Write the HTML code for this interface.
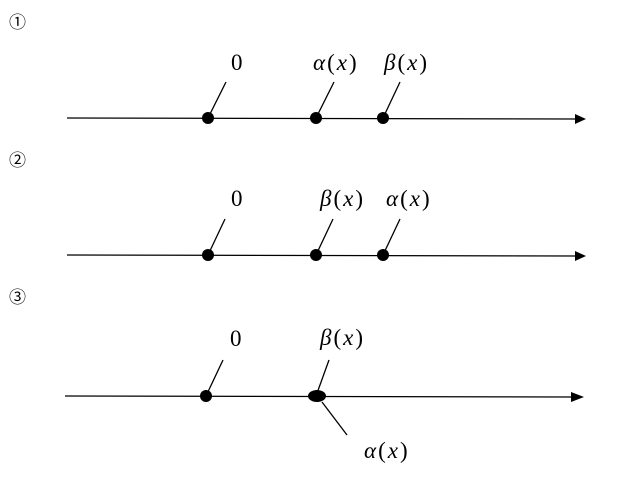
<!DOCTYPE html>
<html><head><style>body{margin:0;background:#fff}
svg text{font-family:"Liberation Serif","Times New Roman",serif;font-size:23px;letter-spacing:2px}
svg text.c{font-family:"Noto Sans CJK SC","WenQuanYi Zen Hei",sans-serif;font-size:17px;letter-spacing:0}
</style></head><body>
<svg width="633" height="479" xmlns="http://www.w3.org/2000/svg">
<text class="c" x="9" y="28">①</text><text class="c" x="9" y="166">②</text><text class="c" x="9" y="303">③</text>
<g stroke="#000" stroke-width="1.3">
<line x1="67" y1="118" x2="578" y2="119"/>
<line x1="67" y1="255" x2="578" y2="256"/>
<line x1="65" y1="396" x2="572" y2="397"/>
<line x1="208" y1="118" x2="226" y2="82"/>
<line x1="316" y1="118" x2="334" y2="82"/>
<line x1="383" y1="118" x2="400" y2="82"/>
<line x1="208" y1="255" x2="225" y2="219"/>
<line x1="316" y1="255" x2="333" y2="219"/>
<line x1="383" y1="255" x2="400" y2="219"/>
<line x1="206" y1="396" x2="223" y2="360"/>
<line x1="316" y1="396" x2="329" y2="360"/>
<line x1="322" y1="402" x2="347" y2="435"/>
</g>
<g fill="#000">
<polygon points="586,119 575,114 575,124"/>
<polygon points="586,256 575,251 575,261"/>
<polygon points="584,397 571,392 571,402"/>
<circle cx="208" cy="118" r="6"/><circle cx="316" cy="118" r="6"/><circle cx="383" cy="118" r="6"/>
<circle cx="208" cy="255" r="6"/><circle cx="316" cy="255" r="6"/><circle cx="383" cy="255" r="6"/>
<circle cx="206" cy="396" r="6"/><ellipse cx="317" cy="396" rx="9" ry="6"/>
</g>
<text x="231" y="70">0</text>
<text x="313" y="70"><tspan font-style="italic">α</tspan>(<tspan font-style="italic">x</tspan>)</text>
<text x="384" y="70"><tspan font-style="italic">β</tspan>(<tspan font-style="italic">x</tspan>)</text>
<text x="231" y="206">0</text>
<text x="320" y="206"><tspan font-style="italic">β</tspan>(<tspan font-style="italic">x</tspan>)</text>
<text x="386" y="206"><tspan font-style="italic">α</tspan>(<tspan font-style="italic">x</tspan>)</text>
<text x="230" y="346">0</text>
<text x="320" y="345"><tspan font-style="italic">β</tspan>(<tspan font-style="italic">x</tspan>)</text>
<text x="364" y="458"><tspan font-style="italic">α</tspan>(<tspan font-style="italic">x</tspan>)</text>
</svg>
</body></html>
